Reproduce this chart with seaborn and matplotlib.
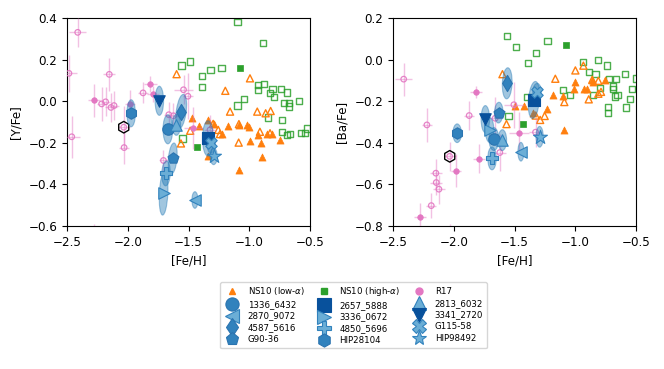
import numpy as np
import pandas as pd
import matplotlib
matplotlib.use("Agg")
import matplotlib.pyplot as plt
from matplotlib.patches import Ellipse
from matplotlib.lines import Line2D
import seaborn as sns

# ---------------- data ----------------
# NS10 low-alpha (filled) and companion open triangles, left ([Y/Fe]) panel
ns_low_feh_L = [-1.474, -1.414, -1.337, -1.290, -1.227, -1.175, -1.084, -1.021, -1.000, -0.994,
                -0.906, -0.925, -0.856, -0.810, -0.747, -0.893, -1.087, -1.337]
ns_low_y = [-0.082, -0.119, -0.090, -0.110, -0.158, -0.118, -0.114, -0.114, -0.122, -0.190,
            -0.199, -0.162, -0.156, -0.156, -0.187, -0.270, -0.331, -0.263]
ns_lowo_feh_L = [-1.598, -0.994, -1.197, -1.158, -0.934, -0.865, -0.824, -1.297, -1.241, -1.087,
                 -0.912, -0.829, -1.085, -1.486, -1.562, -1.255]
ns_lowo_y = [0.130, 0.110, 0.050, -0.050, -0.050, -0.058, -0.047, -0.109, -0.158, -0.199,
             -0.147, -0.154, -0.110, -0.142, -0.203, -0.138]
# right ([Ba/Fe]) panel
ns_low_feh_R = [-1.500, -1.421, -1.344, -1.229, -1.185, -1.098, -1.089, -0.999, -1.010, -0.926,
                -0.907, -0.865, -0.853, -0.753]
ns_low_ba = [-0.225, -0.221, -0.257, -0.238, -0.168, -0.173, -0.338, -0.108, -0.140, -0.140,
             -0.140, -0.100, -0.110, -0.100]
ns_lowo_feh_R = [-1.599, -0.999, -1.164, -0.933, -1.566, -1.325, -1.289, -1.252, -0.810, -0.889,
                 -0.810, -1.090, -0.860, -0.788]
ns_lowo_ba = [-0.070, -0.052, -0.092, -0.029, -0.310, -0.269, -0.290, -0.271, -0.102, -0.191,
              -0.164, -0.204, -0.097, -0.155]

# NS10 high-alpha
ns_high_feh_L = [-1.077, -1.429]
ns_high_y = [0.161, -0.218]
ns_high_feh_R = [-1.078, -1.429]
ns_high_ba = [0.072, -0.310]
ns_higho_feh_L = [-1.096, -0.890, -1.486, -1.558, -1.319, -1.228, -1.387, -1.390, -1.041, -1.096,
                  -0.929, -0.879, -0.929, -0.808, -0.830, -0.797, -0.739, -0.692, -0.714, -0.670,
                  -0.670, -0.588, -0.846, -0.728, -0.728, -0.687, -0.665, -0.577, -0.541, -0.527,
                  -1.549]
ns_higho_y = [0.381, 0.281, 0.191, 0.172, 0.151, 0.161, 0.121, 0.069, 0.012, -0.021,
              0.079, 0.081, 0.052, 0.060, 0.040, 0.021, 0.060, 0.042, -0.009, -0.009,
              -0.025, 0.002, -0.078, -0.090, -0.149, -0.162, -0.157, -0.151, -0.151, -0.131,
              -0.179]
ns_higho_feh_R = [-1.563, -1.489, -1.229, -1.325, -1.390, -0.933, -0.812, -0.741, -0.884, -0.834,
                  -0.725, -0.664, -0.590, -0.796, -0.692, -0.692, -0.653, -0.673, -0.530, -0.549,
                  -0.582, -0.730, -0.730, -1.103, -1.042, -0.856, -1.393, -1.549, -0.503]
ns_higho_ba = [0.112, 0.060, 0.091, 0.031, -0.018, -0.010, -0.001, -0.028, -0.058, -0.070,
               -0.092, -0.092, -0.068, -0.137, -0.129, -0.140, -0.171, -0.177, -0.140, -0.190,
               -0.230, -0.229, -0.257, -0.148, -0.169, -0.169, -0.179, -0.270, -0.091]

# R17 (filled and open) with error bars
r17_feh_L = [-1.813, -1.791, -2.280, -1.984, -1.461, -2.280]
r17_y = [0.082, 0.034, 0.004, -0.014, -0.130, -0.660]
r17_xe_L = [0.05, 0.05, 0.05, 0.04, 0.08, 0.05]
r17_ye_L = [0.04, 0.04, 0.08, 0.07, 0.10, 0.07]
r17o_feh_L = [-2.412, -2.484, -2.152, -2.215, -2.182, -2.138, -2.113, -2.461, -1.874, -1.541,
              -1.505, -1.662, -1.624, -2.030, -1.706, -2.033, -1.323]
r17o_y = [0.331, 0.134, 0.129, -0.013, -0.003, -0.030, -0.021, -0.171, 0.040, 0.055,
          0.024, -0.065, -0.070, -0.223, -0.285, -0.125, -0.138]
r17o_xe_L = [0.07, 0.07, 0.05, 0.04, 0.04, 0.05, 0.04, 0.07, 0.04, 0.08,
             0.04, 0.04, 0.05, 0.04, 0.04, 0.05, 0.05]
r17o_ye_L = [0.07, 0.09, 0.08, 0.08, 0.07, 0.07, 0.07, 0.10, 0.05, 0.07,
             0.11, 0.06, 0.06, 0.08, 0.05, 0.10, 0.07]

r17_feh_R = [-2.281, -1.982, -1.815, -1.790, -1.462, -2.030]
r17_ba = [-0.758, -0.534, -0.156, -0.476, -0.352, -0.860]
r17_xe_R = [0.05, 0.04, 0.05, 0.05, 0.08, 0.05]
r17_ye_R = [0.07, 0.08, 0.03, 0.07, 0.10, 0.07]
r17o_feh_R = [-2.412, -2.221, -2.034, -2.144, -2.147, -2.122, -2.185, -1.873, -1.505, -1.327,
              -1.659, -1.621]
r17o_ba = [-0.094, -0.314, -0.465, -0.591, -0.546, -0.623, -0.702, -0.269, -0.217, -0.349,
           -0.282, -0.447]
r17o_xe_R = [0.07, 0.04, 0.05, 0.05, 0.05, 0.05, 0.04, 0.04, 0.08, 0.05, 0.05, 0.05]
r17o_ye_R = [0.08, 0.08, 0.07, 0.06, 0.07, 0.07, 0.06, 0.07, 0.11, 0.07, 0.10, 0.09]

# highlighted R17 star (black hexagon)
hl_feh = [-2.033]
hl_y = [-0.125]
hl_ba = [-0.465]

# program stars
star_names = ['1336_6432', '2870_9072', '4587_5616', 'G90-36', '2657_5888', '3336_0672',
              '4850_5696', 'HIP28104', '2813_6032', '3341_2720', 'G115-58', 'HIP98492']
star_markers = ['o', '<', 'd', 'p', 's', '>', 'P', 'h', '^', 'v', 'X', '*']
star_shade = ['mid', 'light', 'mid', 'mid', 'dark', 'light', 'light', 'mid', 'light', 'dark',
              'light', 'light']
star_feh = [-1.67, -1.447, -1.56, -1.63, -1.34, -1.705, -1.685, -1.972, -1.60, -1.74, -1.315, -1.293]
star_y = [-0.135, -0.475, -0.050, -0.275, -0.179, -0.443, -0.347, -0.058, -0.114, 0.002, -0.200, -0.265]
star_ba = [-0.382, -0.443, -0.114, -0.255, -0.194, -0.338, -0.475, -0.354, -0.387, -0.286, -0.154, -0.371]
# error ellipses (full widths/heights, tilt)
ell_w = [0.08, 0.05, 0.08, 0.07, 0.09, 0.07, 0.07, 0.07, 0.07, 0.07, 0.07, 0.06]
ell_h_y = [0.14, 0.08, 0.17, 0.15, 0.17, 0.21, 0.12, 0.13, 0.10, 0.14, 0.10, 0.08]
ell_h_ba = [0.11, 0.09, 0.15, 0.10, 0.18, 0.12, 0.11, 0.09, 0.10, 0.13, 0.08, 0.10]
ell_ang_y = [0, 0, -15, -10, 0, -5, -5, 0, 0, 0, 0, 0]
ell_ang_ba = [0, 0, -5, -5, -10, 0, 0, 0, 0, 0, -10, 0]

# ---------------- style ----------------
sns.set_style("ticks", rc={"axes.edgecolor": "black", "text.color": "black",
                           "axes.labelcolor": "black", "xtick.color": "black",
                           "ytick.color": "black"})
plt.rcParams['font.family'] = ['DejaVu Sans']
plt.rcParams['xtick.labelsize'] = 8.6
plt.rcParams['ytick.labelsize'] = 8.6
plt.rcParams['axes.labelsize'] = 8.6

ORANGE = '#ff7f0e'
GREEN = '#2ca02c'
PINK = '#e377c2'
SHADES = {'dark': '#08519c', 'mid': '#3182bd', 'light': '#6baed6'}
EDGES = {'dark': '#08519c', 'mid': '#2b74b0', 'light': '#3182bd'}

fig = plt.figure(figsize=(6.64, 3.69), dpi=100)
axL = fig.add_axes([67 / 664, 1 - 226 / 369, 243 / 664, 208 / 369])
axR = fig.add_axes([393 / 664, 1 - 226 / 369, 243 / 664, 208 / 369])


def draw(ax, low_x, low_y, lowo_x, lowo_y, hi_x, hi_y, hio_x, hio_y,
         r_x, r_y, r_xe, r_ye, ro_x, ro_y, ro_xe, ro_ye, hl_yv, s_y, e_h, e_ang):
    sns.scatterplot(x=hio_x, y=hio_y, marker='s', s=20, facecolor='none',
                    edgecolor=GREEN, linewidth=1.0, alpha=0.85, ax=ax, legend=False, zorder=2)
    sns.scatterplot(x=hi_x, y=hi_y, marker='s', s=20, color=GREEN, edgecolor=GREEN,
                    linewidth=0.5, ax=ax, legend=False, zorder=2)
    sns.scatterplot(x=lowo_x, y=lowo_y, marker='^', s=26, facecolor='none',
                    edgecolor=ORANGE, linewidth=1.0, ax=ax, legend=False, zorder=2)
    sns.scatterplot(x=low_x, y=low_y, marker='^', s=26, color=ORANGE, edgecolor=ORANGE,
                    linewidth=0.5, ax=ax, legend=False, zorder=2)
    # R17 error bars
    ax.errorbar(r_x, r_y, xerr=r_xe, yerr=r_ye, fmt='none', ecolor=PINK, alpha=0.45,
                elinewidth=1.0, zorder=3)
    ax.errorbar(ro_x, ro_y, xerr=ro_xe, yerr=ro_ye, fmt='none', ecolor=PINK, alpha=0.45,
                elinewidth=1.0, zorder=3)
    sns.scatterplot(x=ro_x, y=ro_y, marker='o', s=16, facecolor='none', edgecolor=PINK,
                    linewidth=0.9, alpha=0.9, ax=ax, legend=False, zorder=4)
    sns.scatterplot(x=r_x, y=r_y, marker='o', s=16, color=PINK, edgecolor=PINK,
                    linewidth=0.5, ax=ax, legend=False, zorder=4)
    sns.scatterplot(x=hl_feh, y=hl_yv, marker='h', s=70, facecolor='none', edgecolor='black',
                    linewidth=1.0, ax=ax, legend=False, zorder=5)
    # program stars: ellipses then markers
    for i in range(len(star_names)):
        ax.add_patch(Ellipse((star_feh[i], s_y[i]), ell_w[i], e_h[i], angle=e_ang[i],
                             facecolor='#1f77b4', edgecolor='#1f77b4', alpha=0.42,
                             linewidth=0.8, zorder=5))
    for i in range(len(star_names)):
        sh = star_shade[i]
        size = 110 if star_markers[i] == '*' else 68
        sns.scatterplot(x=[star_feh[i]], y=[s_y[i]], marker=star_markers[i], s=size,
                        color=SHADES[sh], edgecolor=EDGES[sh], linewidth=0.8, ax=ax,
                        legend=False, zorder=6)
    ax.set_xlim(-2.5, -0.5)
    ax.set_xticks([-2.5, -2.0, -1.5, -1.0, -0.5])
    ax.set_xlabel('[Fe/H]')


draw(axL, ns_low_feh_L, ns_low_y, ns_lowo_feh_L, ns_lowo_y, ns_high_feh_L, ns_high_y,
     ns_higho_feh_L, ns_higho_y, r17_feh_L, r17_y, r17_xe_L, r17_ye_L,
     r17o_feh_L, r17o_y, r17o_xe_L, r17o_ye_L, hl_y, star_y, ell_h_y, ell_ang_y)
axL.set_ylim(-0.6, 0.4)
axL.set_yticks([-0.6, -0.4, -0.2, 0.0, 0.2, 0.4])
axL.set_ylabel('[Y/Fe]')

draw(axR, ns_low_feh_R, ns_low_ba, ns_lowo_feh_R, ns_lowo_ba, ns_high_feh_R, ns_high_ba,
     ns_higho_feh_R, ns_higho_ba, r17_feh_R, r17_ba, r17_xe_R, r17_ye_R,
     r17o_feh_R, r17o_ba, r17o_xe_R, r17o_ye_R, hl_ba, star_ba, ell_h_ba, ell_ang_ba)
axR.set_ylim(-0.8, 0.2)
axR.set_yticks([-0.8, -0.6, -0.4, -0.2, 0.0, 0.2])
axR.set_ylabel('[Ba/Fe]')

# ---------------- legend ----------------
star_handles = []
for i, nm in enumerate(star_names):
    sh = star_shade[i]
    ms = 11 if star_markers[i] == '*' else 9.5
    star_handles.append(Line2D([], [], ls='none', marker=star_markers[i], ms=ms,
                               markerfacecolor=SHADES[sh], markeredgecolor=EDGES[sh],
                               markeredgewidth=0.8, label=nm))
col1 = [Line2D([], [], ls='none', marker='^', ms=5, color=ORANGE, label='NS10 (low-$\\alpha$)')] + \
    [star_handles[i] for i in (0, 1, 2, 3)]
col2 = [Line2D([], [], ls='none', marker='s', ms=4.5, color=GREEN, label='NS10 (high-$\\alpha$)')] + \
    [star_handles[i] for i in (4, 5, 6, 7)]
col3 = [Line2D([], [], ls='none', marker='o', ms=5, color=PINK, label='R17')] + \
    [star_handles[i] for i in (8, 9, 10, 11)]
all_handles = col1 + col2 + col3
fig.legend(handles=all_handles, ncol=3, loc='upper left',
           bbox_to_anchor=(220 / 664, 1 - 282 / 369), borderaxespad=0,
           fontsize=6.2, labelspacing=0.3, columnspacing=1.2, handletextpad=0.8,
           frameon=True, edgecolor='#cccccc', fancybox=True)

fig.savefig('out.png', dpi=100)
